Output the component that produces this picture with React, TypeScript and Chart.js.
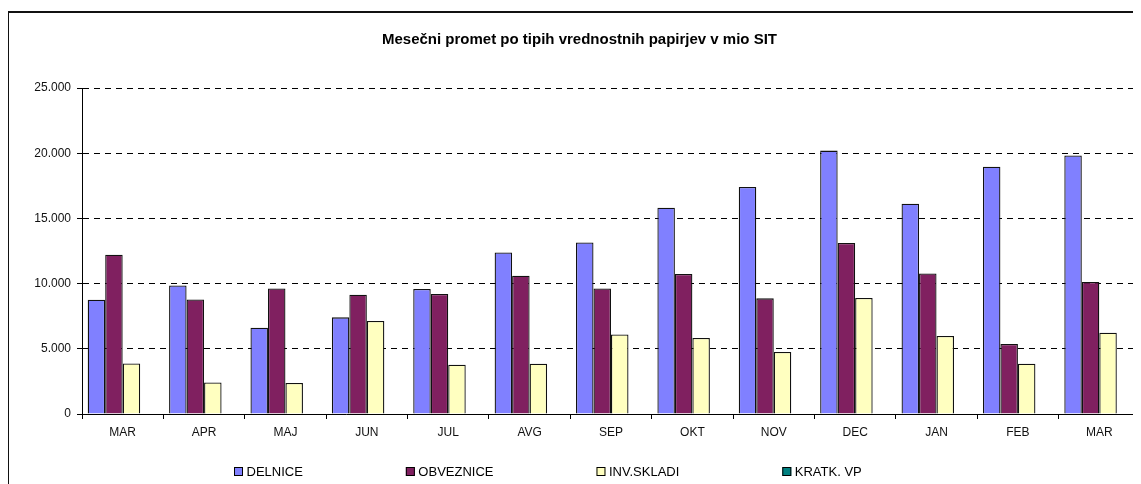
import React, { useEffect, useRef } from "react";
import { Chart, registerables } from "chart.js";

Chart.register(...registerables);

const titleText = "Mesečni promet po tipih vrednostnih papirjev v mio SIT";
const categories = ["MAR", "APR", "MAJ", "JUN", "JUL", "AVG", "SEP", "OKT", "NOV", "DEC", "JAN", "FEB", "MAR"];
const delnice = [8770, 9860, 6620, 7410, 9590, 12390, 13160, 15820, 17410, 20200, 16130, 18970, 19830];
const obveznice = [12220, 8790, 9630, 9150, 9200, 10600, 9630, 10740, 8870, 13110, 10780, 5370, 10120];
const invSkladi = [3880, 2420, 2380, 7130, 3780, 3860, 6100, 5830, 4750, 8900, 5980, 3860, 6230];
const kratkVp = [0, 0, 0, 0, 0, 0, 0, 0, 0, 0, 0, 0, 0];
const seriesLabels = ["DELNICE", "OBVEZNICE", "INV.SKLADI", "KRATK. VP"];
const seriesColors = ["#8080FF", "#802060", "#FFFFC0", "#008080"];
const yMin = 0;
const yMax = 25000;
const yStep = 5000;

const fmt = (v: number) => String(v).replace(/\B(?=(\d{3})+(?!\d))/g, ".");

const FONT = "Arial, 'Liberation Sans', sans-serif";

const framePlugin = {
  id: "frame",
  afterDraw(chart: any) {
    const ctx = chart.ctx;
    ctx.save();
    ctx.fillStyle = "#111";
    ctx.fillRect(0, 3, chart.width, 2);
    ctx.fillRect(0, 3, 2, chart.height);
    ctx.restore();
  },
};

const legendPlugin = {
  id: "customLegend",
  afterDraw(chart: any) {
    const ctx = chart.ctx;
    const y = 463.5;
    let x = chart.chartArea.left + 152;
    ctx.save();
    ctx.font = `13px ${FONT}`;
    ctx.textBaseline = "middle";
    ctx.textAlign = "left";
    chart.data.datasets.forEach((ds: any) => {
      ctx.fillStyle = ds.backgroundColor;
      ctx.fillRect(x, y - 4.5, 9, 9);
      ctx.strokeStyle = "#000";
      ctx.lineWidth = 1;
      ctx.strokeRect(x + 0.5, Math.round(y - 4.5) + 0.5, 8, 8);
      ctx.fillStyle = "#000";
      const tx = x + 12.5;
      ctx.fillText(ds.label, tx, y + 0.5);
      x = tx + ctx.measureText(ds.label).width + 103;
    });
    ctx.restore();
  },
};

export default function App() {
  const ref = useRef<HTMLCanvasElement | null>(null);

  useEffect(() => {
    document.body.style.overflow = "hidden";
    if (!ref.current) return;
    const seriesData = [delnice, obveznice, invSkladi, kratkVp];
    const chart = new Chart(ref.current, {
      type: "bar",
      data: {
        labels: categories,
        datasets: seriesData.map((d, i) => ({
          label: seriesLabels[i],
          data: d,
          backgroundColor: seriesColors[i],
          borderColor: "#111",
          borderWidth: 1.3,
          categoryPercentage: 0.86,
          barPercentage: 1,
        })),
      },
      options: {
        animation: false,
        responsive: false,
        devicePixelRatio: 1,
        layout: { padding: { left: 12, right: 1, top: 0, bottom: 0 } },
        plugins: {
          legend: { display: false },
          tooltip: { enabled: false },
          title: {
            display: true,
            text: titleText,
            color: "#000",
            font: { family: FONT, size: 15, weight: "bold" },
            padding: { top: 23, bottom: 39 },
          },
        },
        scales: {
          x: {
            grid: {
              display: true,
              drawOnChartArea: false,
              drawTicks: true,
              tickLength: 5,
              offset: true,
              color: "#000",
            },
            border: { display: true, color: "#000", width: 1 },
            ticks: {
              color: "#111",
              font: { family: FONT, size: 12 },
              padding: 6.5,
              maxRotation: 0,
              autoSkip: false,
            },
            afterFit(scale: any) {
              scale.height = 70;
            },
          },
          y: {
            min: yMin,
            max: yMax,
            grid: {
              color: "#000",
              lineWidth: 1,
              tickLength: 5,
              tickColor: "#000",
              tickBorderDash: [],
            },
            border: { display: true, color: "#000", width: 1, dash: [6, 5] },
            ticks: {
              stepSize: yStep,
              color: "#111",
              font: { family: FONT, size: 12 },
              padding: 6,
              callback: (v: any) => fmt(Number(v)),
            },
            afterFit(scale: any) {
              scale.width = 63;
            },
          },
        },
      },
      plugins: [framePlugin, legendPlugin],
    } as any);
    return () => chart.destroy();
  }, []);

  return (
    <div style={{ marginLeft: -1, width: 1134, height: 476 }}>
      <canvas ref={ref} width={1134} height={476} style={{ display: "block", width: 1134, height: 476 }} />
    </div>
  );
}
